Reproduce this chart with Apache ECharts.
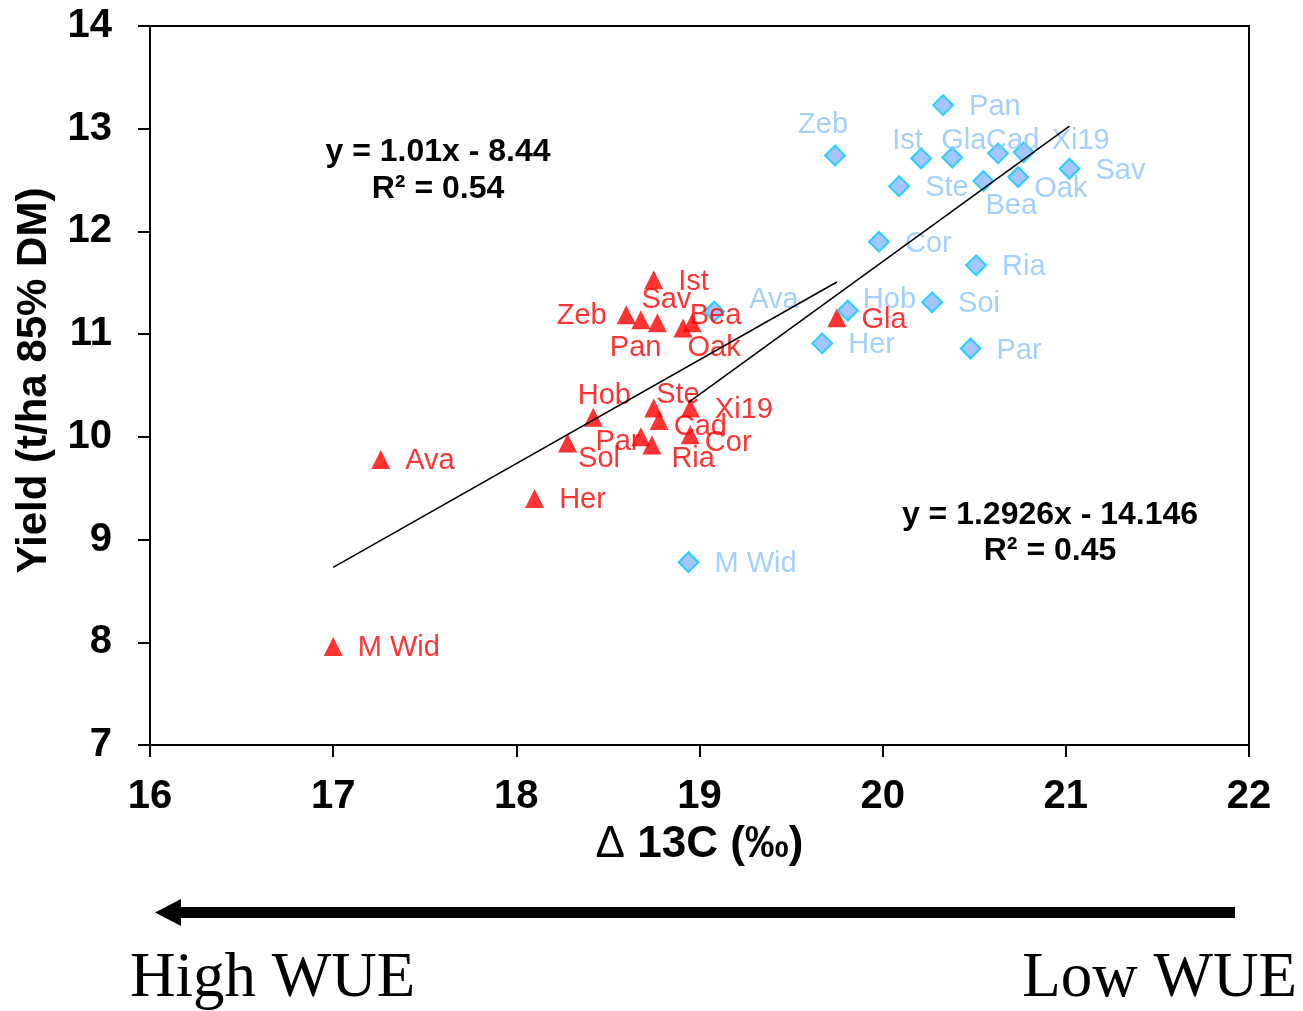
<!DOCTYPE html>
<html>
<head>
<meta charset="utf-8">
<script src="https://cdn.jsdelivr.net/npm/echarts@6/dist/echarts.min.js"></script>
<style>
    html, body { margin: 0; background: #fff; }
    #chart { width: 1303px; height: 1011px; }
</style>
</head>
<body>
<div id="chart"></div>
<script>
    // red triangles
    let redNames = ['M Wid', 'Ava', 'Her', 'Sol', 'Hob', 'Par', 'Ria', 'Cor', 'Cad', 'Ste', 'Xi19', 'Zeb', 'Sav', 'Pan', 'Oak', 'Bea', 'Ist', 'Gla'];
    let redX = [17.00, 17.26, 18.10, 18.28, 18.42, 18.68, 18.74, 18.95, 18.78, 18.75, 18.95, 18.60, 18.68, 18.77, 18.91, 18.96, 18.75, 19.75];
    let redY = [7.96, 9.78, 9.40, 9.94, 10.19, 10.00, 9.92, 10.02, 10.16, 10.28, 10.28, 11.19, 11.14, 11.11, 11.06, 11.11, 11.53, 11.16];

    // blue diamonds
    let blueNames = ['Pan', 'Zeb', 'Ist', 'Gla', 'Cad', 'Xi19', 'Sav', 'Ste', 'Bea', 'Oak', 'Cor', 'Ria', 'Ava', 'Hob', 'Soi', 'Her', 'Par', 'M Wid'];
    let blueX = [20.33, 19.74, 20.21, 20.38, 20.63, 20.77, 21.02, 20.09, 20.55, 20.74, 19.98, 20.51, 19.08, 19.81, 20.27, 19.67, 20.48, 18.94];
    let blueY = [13.23, 12.74, 12.71, 12.72, 12.76, 12.77, 12.61, 12.44, 12.49, 12.53, 11.90, 11.67, 11.22, 11.23, 11.31, 10.91, 10.86, 8.78];

    // trend lines (slope, intercept) as printed on the chart
    let redFit = [1.01, -8.44];
    let blueFit = [1.2926, -14.146];

    let xTicks = [16, 17, 18, 19, 20, 21, 22];
    let yTicks = [7, 8, 9, 10, 11, 12, 13, 14];

    let sans = '"Liberation Sans", Arial, sans-serif';
    let serif = '"Liberation Serif", "Times New Roman", serif';

    // hand placed labels in the crowded parts
    let redNudge = {
        'Sol': [-14, 14], 'Hob': [-40, -23], 'Par': [-70, 3], 'Ria': [-5, 12],
        'Cor': [-10, 6], 'Cad': [-10, 5], 'Ste': [-22, -15], 'Zeb': [-94, -1],
        'Sav': [-24, -22], 'Pan': [-72, 23], 'Oak': [-20, 18], 'Bea': [-27, -9]
    };
    let blueNudge = {
        'Zeb': [-63, -32], 'Ist': [-55, -20], 'Gla': [-37, -18], 'Cad': [-38, -14],
        'Xi19': [2, -13], 'Bea': [-24, 23], 'Oak': [-10, 10], 'Ava': [9, -14], 'Hob': [-11, -13]
    };

    function points(xs, ys, names, nudge) {
        return xs.map(function (x, i) {
            let off = nudge[names[i]] || [0, 0];
            return {
                name: names[i],
                value: [x, ys[i]],
                label: { offset: [off[0], off[1] + 2] }
            };
        });
    }

    function fitLine(fit, xs) {
        let lo = Math.min.apply(null, xs);
        let hi = Math.max.apply(null, xs);
        return [[lo, fit[0] * lo + fit[1]], [hi, fit[0] * hi + fit[1]]];
    }

    let myChart = echarts.init(document.getElementById('chart'));

    let option = {
        animation: false,
        backgroundColor: '#fff',
        grid: {
            left: 150, top: 26, right: 54, bottom: 266,
            show: true, borderColor: '#000', borderWidth: 2
        },
        xAxis: {
            type: 'value',
            min: xTicks[0], max: xTicks[xTicks.length - 1], interval: 1,
            name: '{d|Δ} 13C (‰)',
            nameLocation: 'middle',
            nameGap: 78,
            nameTextStyle: {
                fontFamily: sans, fontSize: 44, fontWeight: 'bold', color: '#000',
                rich: { d: { fontFamily: sans, fontSize: 44, fontWeight: 'normal', color: '#000' } }
            },
            axisLine: { lineStyle: { color: '#000', width: 2 } },
            axisTick: { length: 12, lineStyle: { color: '#000', width: 2 } },
            axisLabel: { margin: 32, fontFamily: sans, fontSize: 40, fontWeight: 'bold', color: '#000' },
            splitLine: { show: false }
        },
        yAxis: {
            type: 'value',
            min: yTicks[0], max: yTicks[yTicks.length - 1], interval: 1,
            name: 'Yield (t/ha 85% DM)',
            nameLocation: 'middle',
            nameGap: 95,
            nameTextStyle: { fontFamily: sans, fontSize: 42, fontWeight: 'bold', color: '#000', padding: [0, 0, 0, 10] },
            axisLine: { lineStyle: { color: '#000', width: 2 } },
            axisTick: { length: 12, lineStyle: { color: '#000', width: 2 } },
            axisLabel: { margin: 38, fontFamily: sans, fontSize: 40, fontWeight: 'bold', color: '#000' },
            splitLine: { show: false }
        },
        series: [
            {
                type: 'scatter',
                symbol: 'triangle',
                symbolSize: 19,
                itemStyle: { color: '#ff0000' },
                label: {
                    show: true, position: 'right', distance: 15, formatter: '{b}',
                    fontFamily: sans, fontSize: 29, color: '#ff0000'
                },
                data: points(redX, redY, redNames, redNudge)
            },
            {
                type: 'scatter',
                symbol: 'diamond',
                symbolSize: 20,
                itemStyle: { color: '#8db6ff', borderColor: '#00ccff', borderWidth: 2 },
                label: {
                    show: true, position: 'right', distance: 15, formatter: '{b}',
                    fontFamily: sans, fontSize: 29, color: '#8cc4ff'
                },
                data: points(blueX, blueY, blueNames, blueNudge)
            },
            {
                type: 'line',
                symbol: 'none',
                silent: true,
                z: 5,
                lineStyle: { color: '#000', width: 1.5 },
                data: fitLine(redFit, redX)
            },
            {
                type: 'line',
                symbol: 'none',
                silent: true,
                z: 5,
                lineStyle: { color: '#000', width: 1.5 },
                data: fitLine(blueFit, blueX)
            }
        ],
        graphic: [
            { type: 'text', x: 438, y: 152, style: { text: 'y = 1.01x - 8.44', font: 'bold 32px ' + sans, fill: '#000', textAlign: 'center', textVerticalAlign: 'middle' } },
            { type: 'text', x: 438, y: 189, style: { text: 'R² = 0.54', font: 'bold 32px ' + sans, fill: '#000', textAlign: 'center', textVerticalAlign: 'middle' } },
            { type: 'text', x: 1050, y: 515, style: { text: 'y = 1.2926x - 14.146', font: 'bold 32px ' + sans, fill: '#000', textAlign: 'center', textVerticalAlign: 'middle' } },
            { type: 'text', x: 1050, y: 551, style: { text: 'R² = 0.45', font: 'bold 32px ' + sans, fill: '#000', textAlign: 'center', textVerticalAlign: 'middle' } },
            // big arrow pointing to high WUE
            { type: 'rect', shape: { x: 178, y: 907, width: 1057, height: 11 }, style: { fill: '#000' } },
            { type: 'polygon', shape: { points: [[155, 912.5], [181, 899], [181, 926]] }, style: { fill: '#000' } },
            { type: 'text', x: 130, y: 979, style: { text: 'High WUE', font: '63px ' + serif, fill: '#000', textAlign: 'left', textVerticalAlign: 'middle' } },
            { type: 'text', x: 1297, y: 979, style: { text: 'Low WUE', font: '63px ' + serif, fill: '#000', textAlign: 'right', textVerticalAlign: 'middle' } }
        ]
    };

    myChart.setOption(option);
</script>
</body>
</html>
